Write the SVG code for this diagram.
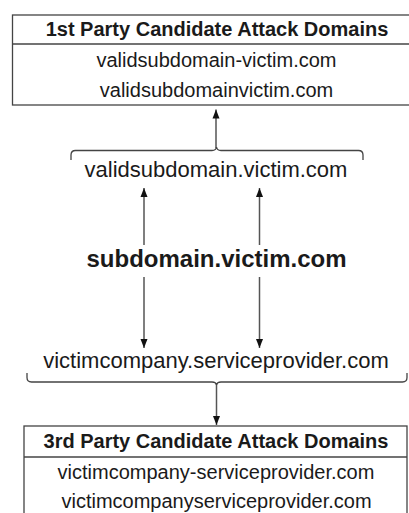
<svg xmlns="http://www.w3.org/2000/svg" width="409" height="513" viewBox="0 0 409 513">
<style>
text{font-family:"Liberation Sans",Arial,sans-serif;fill:#1a1a1a;text-anchor:middle}
.h{font-weight:bold;font-size:20px}
.r{font-size:20px}
.m{font-size:22px}
.b{font-weight:bold;font-size:24px}
.box{fill:#fff;stroke:#444;stroke-width:1.3}
.ln{fill:none;stroke:#444;stroke-width:1.3}
.ar{fill:none;stroke:#555;stroke-width:1.5;marker-end:url(#ah)}
</style>
<defs>
<marker id="ah" markerWidth="10" markerHeight="8" refX="9" refY="4" orient="auto" markerUnits="userSpaceOnUse" viewBox="0 0 10 8">
<path d="M0,0.5 L9,4 L0,7.5 Z" fill="#111"/>
</marker>
</defs>
<g id="connectors">
<path class="ar" d="M216,148 L216,109.5"/>
<path class="ar" d="M144,245 L144,188"/>
<path class="ar" d="M259.5,245 L259.5,188"/>
<path class="ar" d="M144,277 L144,348"/>
<path class="ar" d="M259.5,277 L259.5,348"/>
<path class="ar" d="M216.5,384 L216.5,425"/>
</g>
<g id="first-party">
<rect class="box" x="12.5" y="15" width="410" height="90"/>
<line class="ln" x1="12.5" y1="44" x2="422" y2="44"/>
<text class="h" x="217" y="36">1st Party Candidate Attack Domains</text>
<text class="r" x="216.5" y="67">validsubdomain-victim.com</text>
<text class="r" x="216.5" y="97">validsubdomainvictim.com</text>
</g>
<g id="valid-subdomain">
<path class="ln" d="M71,160 L71,155 Q71,150.5 75.5,150.5 L212,150.5 Q216,150.5 216.5,147 Q217,150.5 221,150.5 L358.5,150.5 Q363,150.5 363,155 L363,160"/>
<text class="m" x="216" y="177">validsubdomain.victim.com</text>
</g>
<g id="subdomain">
<text class="b" x="216.5" y="267">subdomain.victim.com</text>
</g>
<g id="service-provider">
<text class="m" x="216" y="368">victimcompany.serviceprovider.com</text>
<path class="ln" d="M27,373 L27,377.5 Q27,382 31.5,382 L212,382 Q216,382 216.5,385 Q217,382 221,382 L402.5,382 Q407,382 407,377.5 L407,373"/>
</g>
<g id="third-party">
<rect class="box" x="24" y="426" width="383" height="100"/>
<line class="ln" x1="24" y1="457" x2="407" y2="457"/>
<text class="h" x="216" y="448">3rd Party Candidate Attack Domains</text>
<text class="r" x="216" y="479">victimcompany-serviceprovider.com</text>
<text class="r" x="216.5" y="508">victimcompanyserviceprovider.com</text>
</g>
</svg>
